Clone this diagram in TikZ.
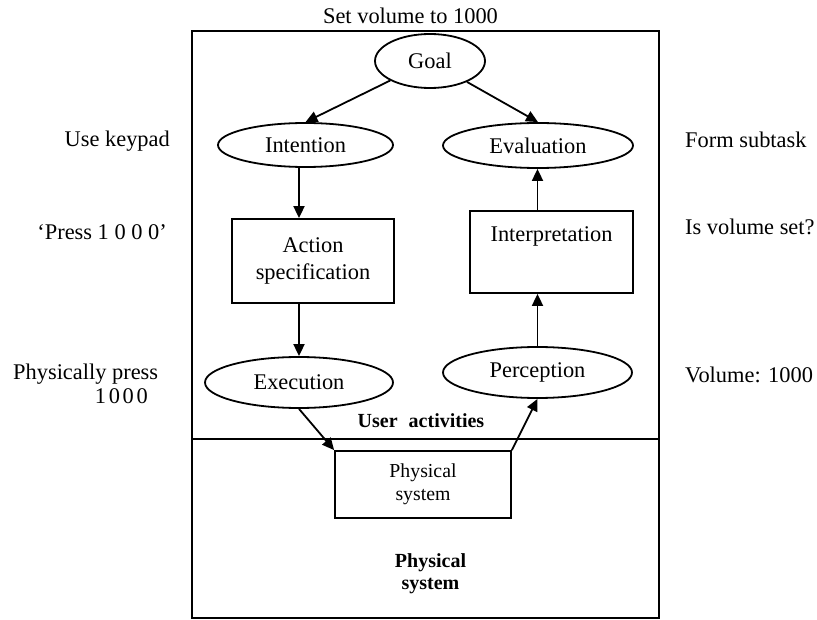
\documentclass[tikz,border=0pt]{standalone}
\usepackage{fontspec}
\setmainfont{Liberation Serif}
\usetikzlibrary{shapes.geometric,arrows.meta}
\begin{document}
\begin{tikzpicture}[x=1pt,y=-1pt,
  every node/.style={font=\fontsize{22.4}{27}\selectfont, inner sep=0pt},
  ell/.style={draw, ellipse, line width=1.8pt},
  boxn/.style={draw, rectangle, line width=1.8pt, align=center},
  arr/.style={line width=1.8pt, -{Triangle[length=12pt,width=11pt]}},
  frame/.style={line width=1.9pt},
  bold/.style={font=\fontsize{20}{22}\selectfont\bfseries}]
\useasboundingbox (0,0) rectangle (817,620);
% frame and divider
\draw[frame] (192,31) rectangle (659,618);
\draw[frame] (192,439) -- (659,439);
% nodes
\node[ell, minimum width=110pt, minimum height=54pt] (goal) at (430,61) {Goal};
\node[ell, minimum width=175pt, minimum height=44pt] (int) at (305.5,145) {Intention};
\node[ell, minimum width=190pt, minimum height=45pt] (eva) at (538,145.5) {Evaluation};
\node[ell, minimum width=188pt, minimum height=51pt] (exe) at (299,382.5) {Execution};
\node[ell, minimum width=189pt, minimum height=51pt] (per) at (537.5,372.5) {Perception};
\node[boxn, minimum width=162pt, minimum height=84pt] (act) at (313,261) {Action\\specification};
\node[boxn, minimum width=163pt, minimum height=82pt] (itp) at (551.5,252) {Interpretation\\\strut};
\node[boxn, minimum width=176pt, minimum height=67pt, font=\fontsize{19.8}{22.5}\selectfont] (phy) at (423,484.5) {Physical\\system};
% connectors
\draw[arr] (goal) -- (int.north);
\draw[arr] (goal) -- (eva.north);
\draw[arr] (int.south -| exe) -- (act.north -| exe);
\draw[arr] (act.south -| exe) -- (exe.north);
\draw[arr] (per.north) -- (itp.south -| per);
\draw[arr] (itp.north -| per) -- (eva.south -| per);
\draw[arr] (exe.south) -- (phy.north west);
\draw[arr] (phy.north east) -- (per.south);
% labels
\node[anchor=base] (title) at (410.5,24) {Set volume to 1000};
\node[anchor=base east] (l1) at (170,147) {Use keypad};
\node[anchor=base east] (l2) at (167,240) {‘Press 1 0 0 0’};
\node[anchor=base west] (l3) at (13,380) {Physically press};
\node[anchor=base east] (l4) at (148,403) {1\hspace{0.12em}0\hspace{0.12em}0\hspace{0.12em}0};
\node[anchor=base west] (r1) at (685,148) {Form subtask};
\node[anchor=base west] (r2) at (685,235) {Is volume set?};
\node[anchor=base west] (r3) at (685,382) {Volume: 1000};
\node[bold, anchor=base] (ua) at (421,427) {User\hspace{0.55em}activities};
\node[bold, anchor=base] (ps1) at (430.5,567) {Physical};
\node[bold, anchor=base] (ps2) at (430.5,589) {system};
\end{tikzpicture}
\end{document}
